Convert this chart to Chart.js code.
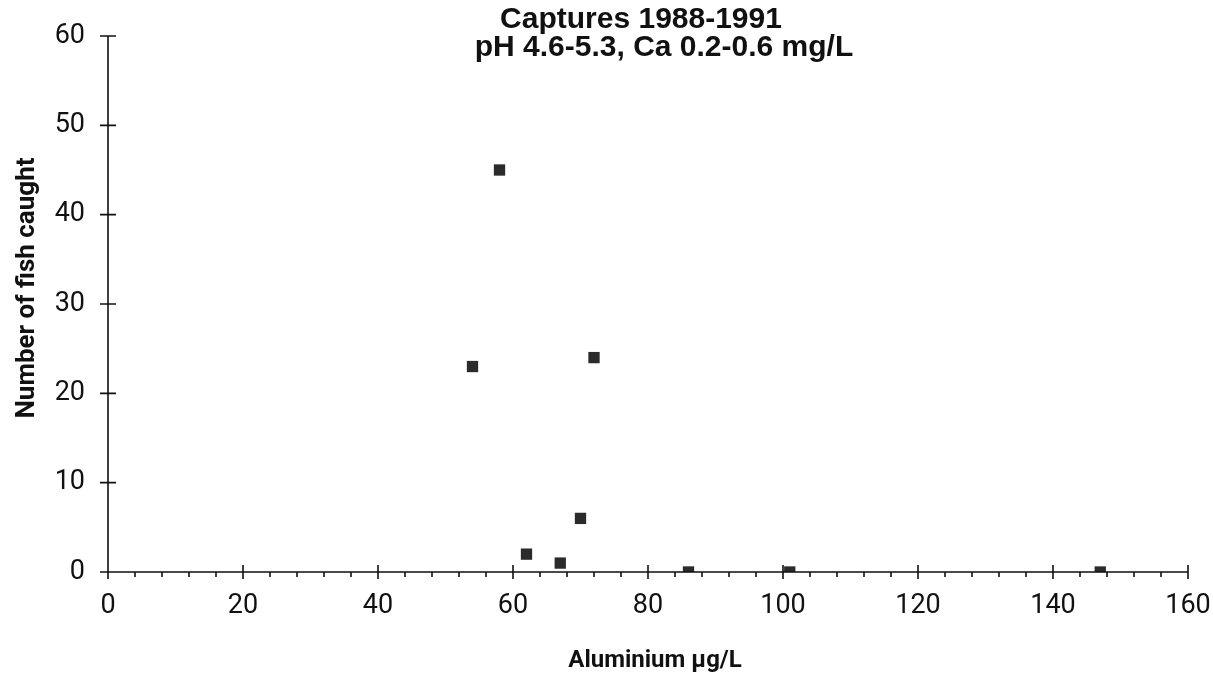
<!DOCTYPE html>
<html>
<head>
<meta charset="utf-8">
<script src="https://cdn.jsdelivr.net/npm/chart.js@4"></script>
<style>
  html, body { margin: 0; padding: 0; background: #fff; }
  #wrap { width: 1213px; height: 676px; }
</style>
</head>
<body>
<div id="wrap"><canvas id="scatterChart" width="1213" height="676"></canvas></div>
<script>
// values
const aluminium = [54, 58, 72, 70, 62, 67, 86, 101, 147];
const fishCaught = [23, 45, 24, 6, 2, 1, 0, 0, 0];

const titleText = 'Captures 1988-1991';
const subtitleText = 'pH 4.6-5.3, Ca 0.2-0.6 mg/L';
const xTitle = 'Aluminium µg/L';
const yTitle = 'Number of fish caught';

const points = aluminium.map((x, i) => ({ x: x, y: fishCaught[i] }));

// axis lines, crossing major ticks, minor ticks, and the header / axis text
const axesPlugin = {
  id: 'axesPlugin',
  afterDraw(chart) {
    const ctx = chart.ctx;
    const xs = chart.scales.x;
    const ys = chart.scales.y;
    const y0 = ys.getPixelForValue(0);
    const x0 = xs.getPixelForValue(0);
    ctx.save();
    ctx.strokeStyle = '#111';
    ctx.lineWidth = 1.6;
    ctx.beginPath();
    ctx.moveTo(x0 - 8, y0);
    ctx.lineTo(xs.getPixelForValue(160), y0);
    ctx.moveTo(x0, ys.getPixelForValue(60));
    ctx.lineTo(x0, y0);
    for (let v = 0; v <= 160; v += 4) {
      const px = xs.getPixelForValue(v);
      if (v % 20 === 0) {
        ctx.moveTo(px, y0 - 7);
        ctx.lineTo(px, y0 + 7);
      } else {
        ctx.moveTo(px, y0);
        ctx.lineTo(px, y0 + 5);
      }
    }
    for (let v = 10; v <= 60; v += 10) {
      const py = ys.getPixelForValue(v);
      ctx.moveTo(x0 - 8, py);
      ctx.lineTo(x0 + 8, py);
    }
    ctx.stroke();

    ctx.fillStyle = '#111';
    ctx.textAlign = 'center';
    ctx.textBaseline = 'middle';
    ctx.font = 'bold 30px "Liberation Sans", Arial, sans-serif';
    ctx.fillText(titleText, 641, 20);
    ctx.font = 'bold 30px "Liberation Sans", Arial, sans-serif';
    ctx.fillText(subtitleText, 664, 48);

    ctx.font = 'bold 24px Roboto, sans-serif';
    ctx.fillText(xTitle, 655, 661);

    ctx.translate(27, 288);
    ctx.rotate(-Math.PI / 2);
    ctx.font = 'bold 26px Roboto, sans-serif';
    ctx.fillText(yTitle, 0, 0);
    ctx.restore();
  }
};

const data = {
  datasets: [
    {
      label: 'Captures',
      data: points,
      pointStyle: 'rect',
      pointRadius: 8,
      pointHoverRadius: 8,
      borderWidth: 0,
      backgroundColor: '#2b2b2b',
      showLine: false,
    },
  ],
};

const config = {
  type: 'scatter',
  data: data,
  options: {
    responsive: false,
    animation: false,
    layout: { padding: { top: 36, right: 25, left: 0, bottom: 0 } },
    plugins: {
      legend: { display: false },
      tooltip: { enabled: false },
    },
    scales: {
      x: {
        type: 'linear',
        position: 'bottom',
        min: 0,
        max: 160,
        grid: { display: false, drawTicks: false },
        border: { display: false },
        ticks: {
          stepSize: 20,
          padding: 18,
          color: '#111',
          font: { family: 'Roboto', size: 27 },
        },
        afterFit(scale) {
          scale.height = 104;
          scale.paddingLeft = 0;
          scale.paddingRight = 0;
        },
      },
      y: {
        min: 0,
        max: 60,
        grid: { display: false, drawTicks: false },
        border: { display: false },
        ticks: {
          stepSize: 10,
          padding: 23,
          color: '#111',
          font: { family: 'Roboto', size: 27 },
        },
        afterFit(scale) {
          scale.width = 108;
          scale.paddingTop = 0;
          scale.paddingBottom = 0;
        },
      },
    },
  },
  plugins: [axesPlugin],
};

const scatterChart = new Chart(document.getElementById('scatterChart'), config);
</script>
</body>
</html>
